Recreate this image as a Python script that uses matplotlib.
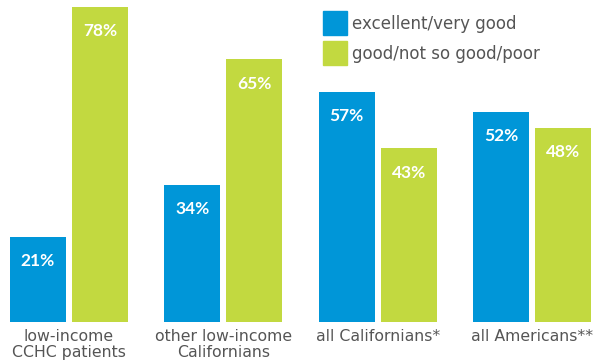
import matplotlib
matplotlib.use("Agg")
import matplotlib.pyplot as plt
from matplotlib.patches import Rectangle
import numpy as np

categories = ["low-income\nCCHC patients", "other low-income\nCalifornians",
              "all Californians*", "all Americans**"]
excellent = [21, 34, 57, 52]
good_poor = [78, 65, 43, 48]
series_names = ["excellent/very good", "good/not so good/poor"]

BLUE = "#0096D8"
GREEN = "#C2D940"
GRAY = "#555555"
plt.rcParams["font.family"] = ["DejaVu Sans"]

W, H = 594, 364
fig = plt.figure(figsize=(W / 100, H / 100), dpi=100)

# axes occupies full width; baseline 42 px above the bottom edge
ax = fig.add_axes([0, 42 / H, 1, 322 / H])
x = np.arange(len(categories))
bw = 0.363
off = 0.2009

b1 = ax.bar(x - off, excellent, bw, color=BLUE)
b2 = ax.bar(x + off, good_poor, bw, color=GREEN)

for bars, vals in ((b1, excellent), (b2, good_poor)):
    for rect, v in zip(bars, vals):
        ax.annotate(f"{v}%", (rect.get_x() + rect.get_width() / 2, v),
                    xytext=(0, -17.5), textcoords="offset points",
                    ha="center", va="center", color="white",
                    fontsize=12.5, fontweight="bold",
                    family=["Lato", "DejaVu Sans"])

ax.set_xlim(-0.447, 3.402)
ax.set_ylim(0, 79.7)
ax.axis("off")

for xi, cat in zip(x, categories):
    ax.annotate(cat, (xi, 0), xytext=(0, -5), textcoords="offset points",
                ha="center", va="top", color=GRAY, fontsize=11.3,
                linespacing=1.12)

# legend: coloured squares with labels, positioned in pixels
for i, (name, col) in enumerate(zip(series_names, (BLUE, GREEN))):
    top = 11 + 30 * i
    fig.patches.append(Rectangle((323 / W, 1 - (top + 24) / H), 24 / W, 24 / H,
                                 transform=fig.transFigure, color=col))
    fig.text(352 / W, 1 - (top + 13) / H, name, color=GRAY, fontsize=12,
             va="center", ha="left")

fig.savefig("out.png", dpi=100)
